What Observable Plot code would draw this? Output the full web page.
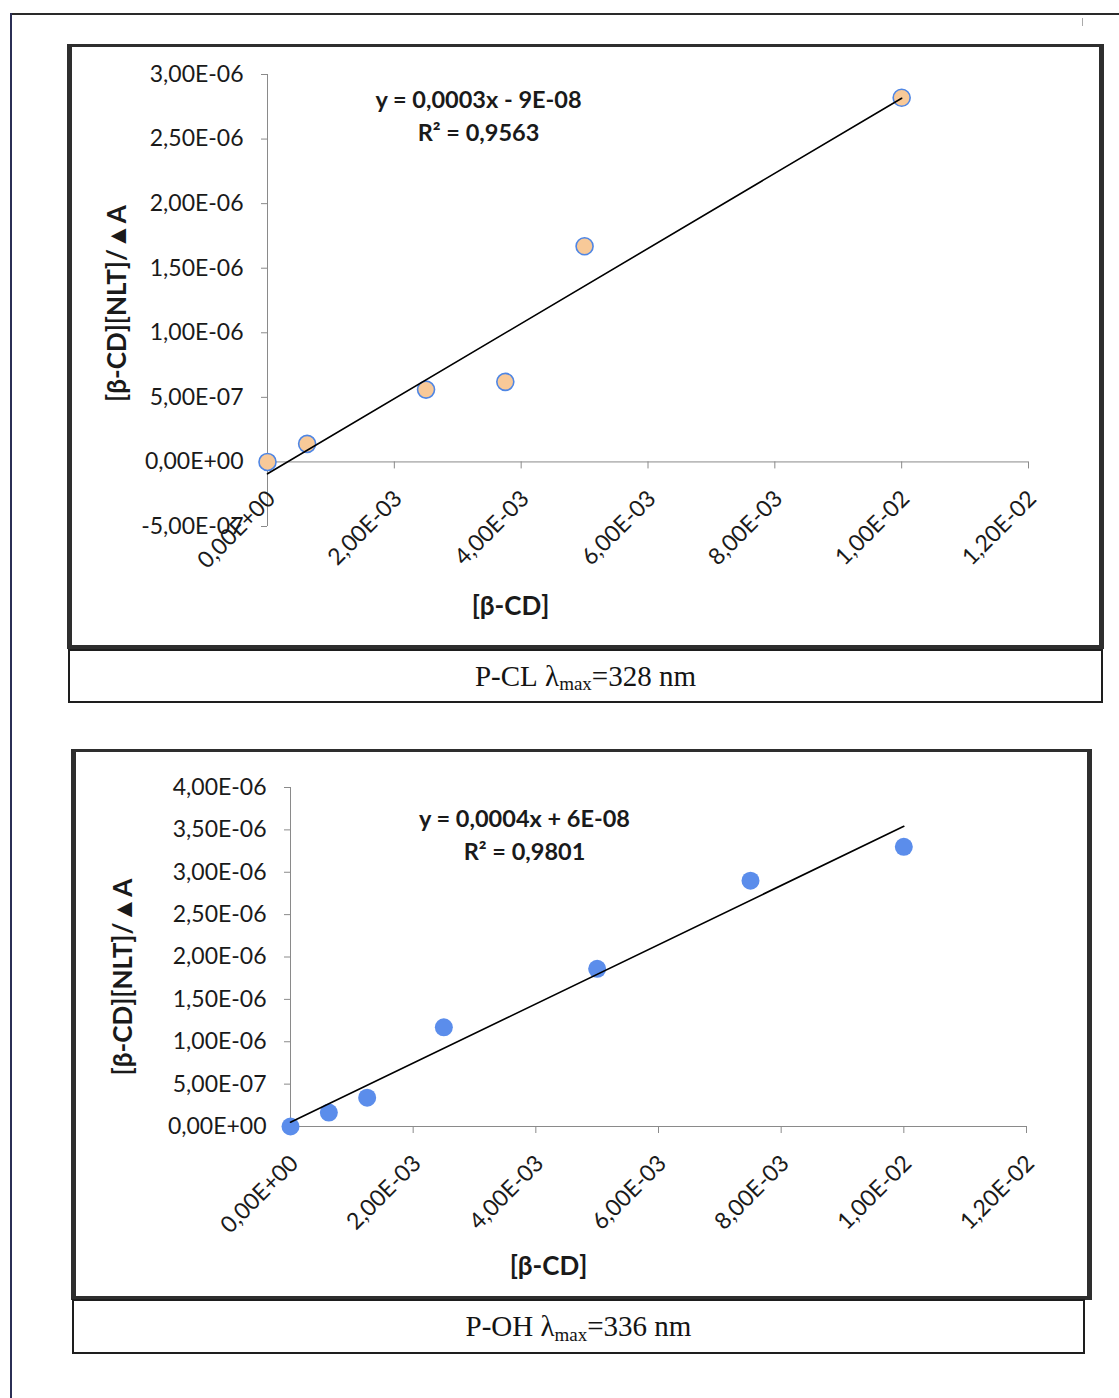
<!DOCTYPE html>
<html>
<head>
<meta charset="utf-8">
<script src="https://cdn.jsdelivr.net/npm/d3@7"></script>
<script src="https://cdn.jsdelivr.net/npm/@observablehq/plot@0.6"></script>
<style>
  html, body { margin: 0; padding: 0; background: #fff; }
  body { width: 1119px; height: 1398px; position: relative; overflow: hidden; font-family: Lato, "Open Sans", sans-serif; }
  .abs { position: absolute; box-sizing: border-box; }
  .box { border-style: solid; border-color: #2e2e2e; background: transparent; }
  .cap { font-family: "Liberation Serif", "Times New Roman", serif; font-size: 29px; color: #141414;
         display: flex; align-items: center; justify-content: center; border: 2px solid #1e1e1e; }
  .cap sub { font-size: 19px; vertical-align: baseline; position: relative; top: 8px; line-height: 0; }
  .plotwrap svg { overflow: visible; background: transparent !important; }
</style>
</head>
<body>
<!-- page frame -->
<div class="abs" style="left:11px;top:13px;width:1108px;height:2px;background:#2a2a2a"></div>
<div class="abs" style="left:10px;top:13px;width:2px;height:1385px;background:#2b2f55"></div>
<div class="abs" style="left:1082px;top:18px;width:1px;height:8px;background:#aaa"></div>

<!-- chart boxes -->
<div class="abs box" style="left:67px;top:44px;width:1037px;height:605px;border-width:3px 5px 4px 5px"></div>
<div class="abs cap" style="left:68px;top:649px;width:1035px;height:54px">P-CL&nbsp;λ<sub>max</sub>=328 nm</div>

<div class="abs box" style="left:71px;top:749px;width:1021px;height:551px;border-width:3px 5px 4px 5px"></div>
<div class="abs cap" style="left:72px;top:1299px;width:1013px;height:55px">P-OH&nbsp;λ<sub>max</sub>=336 nm</div>

<div id="c1" class="abs plotwrap" style="left:66px;top:45px"></div>
<div id="c2" class="abs plotwrap" style="left:71px;top:751px"></div>

<script>
// ---------- data ----------
const xTicks = [0, 0.002, 0.004, 0.006, 0.008, 0.010, 0.012];
const xTickLabels = ["0,00E+00", "2,00E-03", "4,00E-03", "6,00E-03", "8,00E-03", "1,00E-02", "1,20E-02"];

// P-CL (λmax = 328 nm)
const pclX = [0, 0.000625, 0.0025, 0.00375, 0.005, 0.010];
const pclY = [0, 1.4e-7, 5.6e-7, 6.2e-7, 1.67e-6, 2.82e-6];
const pclYTicks = [-5e-7, 0, 5e-7, 1e-6, 1.5e-6, 2e-6, 2.5e-6, 3e-6];
const pclYTickLabels = ["-5,00E-07", "0,00E+00", "5,00E-07", "1,00E-06", "1,50E-06", "2,00E-06", "2,50E-06", "3,00E-06"];
const pclEquation = ["y = 0,0003x - 9E-08", "R² = 0,9563"];

// P-OH (λmax = 336 nm)
const pohX = [0, 0.000625, 0.00125, 0.0025, 0.005, 0.0075, 0.010];
const pohY = [0, 1.65e-7, 3.4e-7, 1.17e-6, 1.86e-6, 2.90e-6, 3.30e-6];
const pohYTicks = [0, 5e-7, 1e-6, 1.5e-6, 2e-6, 2.5e-6, 3e-6, 3.5e-6, 4e-6];
const pohYTickLabels = ["0,00E+00", "5,00E-07", "1,00E-06", "1,50E-06", "2,00E-06", "2,50E-06", "3,00E-06", "3,50E-06", "4,00E-06"];
const pohEquation = ["y = 0,0004x + 6E-08", "R² = 0,9801"];

const xTitle = "[β-CD]";
const yTitle = "[β-CD][NLT]/▲A";

// ---------- drawing ----------
function chart(cfg) {
  const data = cfg.xs.map((x, i) => ({x, y: cfg.ys[i]}));
  const axisColor = "#8a8a8a";
  const textColor = "#1a1a1a";
  return Plot.plot({
    width: cfg.width, height: cfg.height,
    marginLeft: cfg.mL, marginRight: cfg.mR, marginTop: cfg.mT, marginBottom: cfg.mB,
    x: {domain: [0, 0.012], axis: null},
    y: {domain: cfg.yDomain, axis: null},
    style: {fontFamily: "Lato, 'Open Sans', sans-serif", background: "transparent", overflow: "visible"},
    marks: [
      // y axis
      Plot.ruleX([0], {stroke: axisColor, strokeWidth: 1}),
      Plot.ruleY(cfg.yTicks, {y: d => d, x1: 0, x2: 0, insetLeft: -6, stroke: axisColor}),
      Plot.text(cfg.yTicks, {y: d => d, frameAnchor: "left", text: (d, i) => cfg.yLabels[i],
        textAnchor: "end", dx: -24, fontSize: 23, fill: textColor}),
      // x axis at y = 0
      Plot.ruleY([0], {stroke: axisColor, strokeWidth: 1}),
      Plot.ruleX(xTicks, {x: d => d, y1: 0, y2: 0, insetBottom: -7, stroke: axisColor}),
      Plot.text(xTicks, {x: d => d, y: 0, text: (d, i) => xTickLabels[i], rotate: -45,
        textAnchor: "end", dx: 4, dy: 33, fontSize: 23, fill: textColor}),
      // points and trendline
      Plot.dot(data, {x: "x", y: "y", r: cfg.r, fill: cfg.fill, stroke: cfg.stroke, strokeWidth: cfg.stroke === "none" ? 0 : 1.6}),
      Plot.linearRegressionY(data, {x: "x", y: "y", ci: 0, stroke: "#000", strokeWidth: 1.6}),
      // equation
      Plot.text([cfg.eq.join("\n")], {frameAnchor: "top-left", dx: cfg.eqDx, dy: cfg.eqDy,
        fontSize: 23.5, fontWeight: "bold", lineHeight: 1.4, textAnchor: "middle", fill: textColor}),
      // axis titles
      Plot.text([xTitle], {frameAnchor: "bottom-left", dx: cfg.xtDx, dy: cfg.xtDy,
        fontSize: 26, fontWeight: "bold", textAnchor: "middle", fill: textColor}),
      Plot.text([yTitle], {frameAnchor: "left", dx: cfg.ytDx, dy: cfg.ytDy, rotate: -90,
        fontSize: 26, fontWeight: "bold", textAnchor: "middle", fill: textColor})
    ]
  });
}

document.getElementById("c1").append(chart({
  xs: pclX, ys: pclY, yTicks: pclYTicks, yLabels: pclYTickLabels, eq: pclEquation,
  yDomain: [-5e-7, 3e-6],
  width: 1034, height: 603, mL: 201, mR: 72, mT: 29, mB: 122,
  r: 8.5, fill: "#f8c998", stroke: "#4f86e4",
  eqDx: 211, eqDy: 10, xtDx: 243, xtDy: 88, ytDx: -150, ytDy: 3
}));

document.getElementById("c2").append(chart({
  xs: pohX, ys: pohY, yTicks: pohYTicks, yLabels: pohYTickLabels, eq: pohEquation,
  yDomain: [0, 4e-6],
  width: 1019, height: 549, mL: 219, mR: 64, mT: 36, mB: 174,
  r: 9, fill: "#5b8deb", stroke: "none",
  eqDx: 234, eqDy: 16, xtDx: 258, xtDy: 148, ytDx: -167, ytDy: 20
}));
</script>
</body>
</html>
